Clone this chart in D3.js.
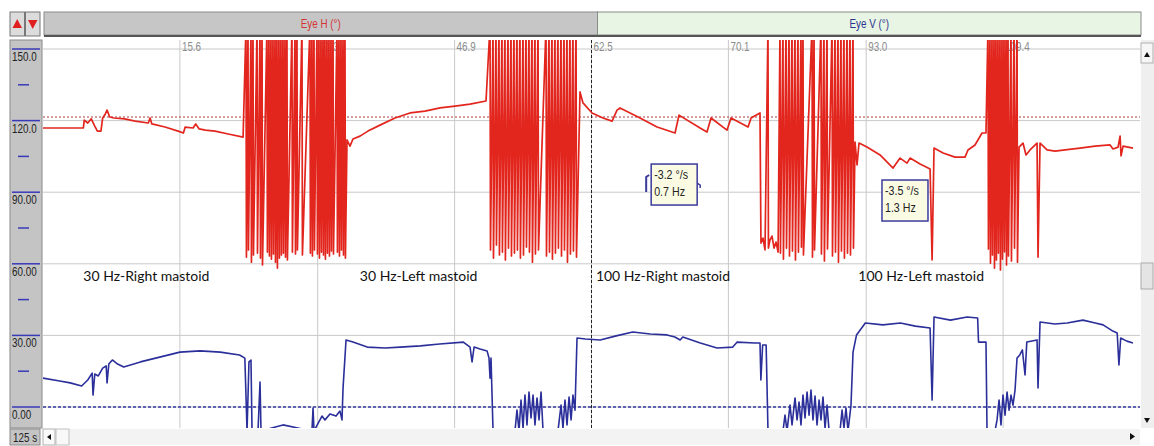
<!DOCTYPE html>
<html>
<head>
<meta charset="utf-8">
<script src="https://cdn.jsdelivr.net/npm/d3@7"></script>
<style>
body { margin: 0; background: #fff; }
svg { display: block; }
.ui { font-family: "Liberation Sans Narrow", "Liberation Sans", "DejaVu Sans", sans-serif; }
</style>
</head>
<body>
<div id="chart"></div>
<script>
// ---- data (time in s, position in degrees) ----
var timeTicks = [15.6, 31.3, 46.9, 62.5, 78.1, 93.8, 109.4];
var timeTickLabels = ["15.6", "31.3", "46.9", "62.5", "70.1", "93.0", "109.4"];

var degTicks = [150, 120, 90, 60, 30, 0];
var degTickLabels = ["150.0", "120.0", "90.00", "60.00", "30.00", "0.00"];
var degMinor = [135, 105, 75, 45, 15];

var channelNames = ["Eye H (°)", "Eye V (°)"];
var conditionNames = ["30 Hz-Right mastoid", "30 Hz-Left mastoid", "100 Hz-Right mastoid", "100 Hz-Left mastoid"];
var conditionStart = [4.6, 36.1, 63.0, 92.9];

var hReference = 121.5;
var vReference = 0;
var markerTime = 62.5;

// slow phase boxes: [t, deg] of the top-left corner
var nystagmusText = [["-3.2 °/s", "0.7 Hz"], ["-3.5 °/s", "1.3 Hz"]];
var nystagmusAt = [[69.3, 101.8], [95.6, 95.1]];

// horizontal eye, slow parts of the trace
var eyeHDrift = [
    [0, 116.9], [4.6, 116.9], [4.7, 120.2], [5.1, 119.0], [5.5, 120.7], [5.9, 117.7], [6.2, 115.6],
    [6.6, 115.6], [6.8, 121.1], [7.1, 122.8], [7.3, 124.4], [7.6, 121.5], [8.1, 121.1], [9.3, 120.7],
    [10.5, 119.8], [12.0, 119.0], [12.2, 121.1], [12.4, 118.6], [13.9, 117.3], [15.4, 115.6], [16.0, 114.8],
    [16.2, 117.3], [17.1, 116.9], [17.4, 118.6], [17.8, 116.5], [18.5, 116.0], [19.6, 115.6], [21.1, 114.4],
    [22.8, 113.1],
    [34.64, 111.9], [34.98, 109.3], [35.32, 112.3], [36.12, 113.5], [37.03, 115.6], [38.40, 118.1],
    [40.11, 121.1], [41.82, 123.2], [43.53, 124.0], [45.24, 125.3], [46.95, 126.1], [48.66, 126.9], [50.48, 128.2],
    [61.19, 132.0], [61.53, 127.4], [62.56, 123.2], [63.81, 121.1], [64.84, 119.8], [65.41, 124.4], [65.75, 125.3],
    [68.03, 121.1], [69.97, 117.3], [72.02, 114.8], [72.47, 122.3], [74.87, 116.9], [75.66, 115.2], [76.12, 121.1],
    [77.94, 116.0], [78.40, 121.1], [80.34, 117.3], [80.68, 121.1], [81.70, 123.2],
    [81.81, 68.7], [82.04, 70.8], [82.27, 65.8], [82.84, 70.0], [83.07, 71.6], [83.30, 66.6], [83.53, 69.1], [83.76, 64.9],
    [92.53, 111.0], [92.76, 101.4], [92.98, 110.6], [93.89, 108.9], [95.38, 105.6], [96.86, 100.1], [97.66, 104.3],
    [98.45, 102.2], [98.80, 104.3], [99.94, 101.8], [101.08, 99.7], [101.31, 61.6], [101.53, 108.5], [102.56, 106.4],
    [103.92, 104.7], [105.06, 104.7], [105.40, 107.7], [106.20, 109.8], [107.00, 114.8], [107.45, 114.8],
    [111.22, 108.9], [111.67, 110.6], [112.01, 105.6], [112.47, 107.7], [113.27, 110.6], [113.38, 62.8], [113.61, 110.6],
    [114.41, 107.7], [115.32, 107.2], [116.46, 107.7], [118.17, 108.5], [119.88, 109.3], [121.59, 109.8], [121.93, 108.1],
    [122.50, 108.9], [122.73, 113.5], [122.84, 105.2], [123.07, 109.3], [124.21, 108.5]
];

// horizontal eye, fast beats that run off the top: [t, lowest deg]
var eyeHBeats = [
    [23.13, 62.8], [23.36, 65.8], [23.70, 60.7], [23.93, 63.7], [24.39, 64.5], [24.73, 62.4], [24.96, 59.5],
    [25.52, 64.9], [25.75, 63.3], [25.98, 62.0], [26.21, 64.1], [26.44, 60.7], [26.66, 58.2], [26.89, 62.4],
    [27.12, 63.7], [27.35, 64.5], [27.58, 62.8], [27.80, 61.6], [28.37, 64.9], [28.72, 64.1], [28.94, 65.8],
    [29.51, 63.7], [30.42, 64.5], [30.65, 63.3], [30.88, 65.8], [31.22, 64.1], [31.45, 62.4], [31.68, 64.9],
    [31.91, 63.7], [32.13, 62.0], [32.36, 64.5], [32.59, 63.3], [32.82, 65.4], [33.05, 64.1], [33.50, 64.9],
    [33.73, 63.3], [33.96, 65.8], [34.19, 63.7], [34.41, 62.4],
    [50.94, 65.8], [51.28, 62.4], [51.62, 67.9], [51.96, 63.7], [52.30, 64.9], [52.64, 61.6], [52.99, 66.6],
    [53.33, 63.3], [53.67, 64.5], [54.01, 65.8], [54.35, 62.4], [54.70, 63.7], [55.04, 67.0], [55.38, 64.9],
    [55.72, 60.7], [56.06, 64.1], [56.41, 65.8], [57.32, 63.3], [57.66, 64.9], [58.00, 62.0], [58.34, 64.5],
    [58.68, 66.6], [59.03, 63.3], [59.37, 65.8], [59.71, 60.7], [60.05, 64.1], [60.39, 65.4], [60.74, 62.8],
    [82.61, 66.6], [83.98, 64.5], [84.32, 62.0], [84.67, 66.6], [85.01, 63.3], [85.35, 65.4], [85.69, 61.6],
    [86.03, 64.9], [86.37, 67.0], [86.60, 63.7], [87.63, 62.8], [87.86, 65.8], [88.65, 64.1], [88.99, 61.2],
    [89.34, 66.2], [89.91, 63.3], [90.25, 64.9], [90.59, 60.7], [90.93, 65.4], [91.27, 62.4], [91.62, 64.5],
    [91.96, 63.7], [92.30, 66.6],
    [107.68, 66.2], [107.91, 60.3], [108.14, 63.7], [108.37, 58.2], [108.59, 61.6], [108.82, 64.5], [109.05, 57.4],
    [109.28, 62.0], [109.51, 65.0], [109.74, 59.5], [109.96, 63.3], [110.30, 61.2], [110.65, 66.6], [110.99, 60.7]
];
var beatTop = 160;

// vertical eye
var eyeV = [
    [0, 12.1], [1.9, 10.9], [3.1, 10.1], [4.4, 8.8], [5.1, 11.3], [5.6, 14.2], [5.7, 5.0], [5.9, 13.8], [6.3, 13.0],
    [6.8, 16.3], [7.2, 17.2], [7.3, 10.1], [7.5, 18.0], [7.9, 19.7], [8.5, 18.0], [9.2, 16.8], [11.1, 18.9],
    [13.3, 20.9], [15.6, 23.0], [17.9, 23.5], [20.2, 23.0], [22.4, 21.8], [23.0, 20.5], [23.25, -10], [23.47, 18.9],
    [23.70, 19.7], [23.82, -10], [24.50, -10], [24.73, 10.5], [24.84, -10], [27.35, -7.5], [29.29, -9], [30.65, -10],
    [30.77, -0.4], [30.88, -10], [31.79, -3.8], [32.13, -5.4], [32.70, -2.9], [33.39, -3.8], [33.84, -1.7],
    [34.07, -5.4], [34.19, 8.0], [34.53, 28.1], [35.32, 27.2], [36.94, 25.1], [39.0, 24.7], [40.7, 25.1],
    [43.0, 25.6], [45.2, 26.4], [47.9, 27.2], [48.66, 25.1], [48.89, 18.9], [49.12, 25.1], [49.80, 24.3],
    [50.60, 23.5], [50.82, 20.5], [50.94, 12.1], [51.05, 20.5], [51.28, -10], [53.78, -10], [54.01, -1.3],
    [54.24, -10], [54.47, 2.9], [54.70, -8.8], [54.92, 5.0], [55.15, -7.5], [55.38, 6.3], [55.61, -4.6],
    [55.84, 5.0], [56.06, -7.5], [56.29, 3.8], [56.52, -5.4], [56.75, 6.3], [56.98, -10], [58.68, -10],
    [59.03, 0.8], [59.25, -8.8], [59.48, 2.9], [59.71, -7.5], [59.94, 4.2], [60.17, -5.4], [60.39, 5.0],
    [60.62, -1.3], [60.85, 28.9], [61.8, 28.5], [63.5, 28.1], [65.2, 29.7], [67.2, 31.4], [69.2, 30.6],
    [71.1, 30.2], [72.0, 29.3], [72.6, 28.1], [72.9, 29.3], [74.9, 26.8], [76.8, 24.7], [78.6, 25.1],
    [79.1, 27.2], [81.1, 26.8], [81.7, 26.8], [81.8, 11.3], [82.0, 26.0], [82.4, 26.0], [82.61, -10],
    [84.32, -10], [84.55, -3.4], [84.78, -10], [85.12, 0.8], [85.35, -7.5], [85.69, 3.8], [85.92, -5.4],
    [86.15, 2.1], [86.37, -7.5], [86.60, 5.0], [86.83, -4.6], [87.06, 6.3], [87.29, -3.4], [87.51, 7.1],
    [87.74, -5.4], [87.97, 4.6], [88.20, -7.5], [88.43, 2.9], [88.65, -5.4], [88.88, 4.2], [89.11, -8.8],
    [89.34, 0.8], [89.57, -10], [90.82, -10], [91.05, -1.3], [91.27, -8.8], [91.50, -0.4], [91.73, -10],
    [92.07, 0.8], [92.30, 23.0], [92.7, 30.2], [93.7, 35.2], [95.7, 34.4], [97.7, 35.2], [99.4, 33.9],
    [101.08, 33.1], [101.31, 2.9], [101.53, 37.7], [103.4, 36.4], [105.3, 37.7], [106.5, 37.3], [106.6, 27.2],
    [107.45, 27.2], [107.57, -10], [108.48, -10], [108.71, -5.4], [108.94, 2.9], [109.16, -7.5], [109.39, 5.0],
    [109.62, -3.4], [109.85, 6.3], [110.08, -1.3], [110.30, 5.0], [110.53, 0.8], [110.76, 7.1], [110.99, 20.5],
    [111.3, 21.8], [111.6, 23.9], [111.9, 13.4], [112.1, 27.2], [113.27, 28.1], [113.38, 8.0], [113.61, 35.6],
    [115.3, 34.8], [116.7, 35.2], [118.5, 36.4], [119.9, 35.2], [120.8, 34.4], [121.9, 31.8], [122.4, 31.0],
    [122.6, 17.6], [122.8, 28.9], [123.5, 27.6], [124.2, 26.8]
];

// ---- layout ----
var svgWidth = 1154;
var svgHeight = 446;
var plot = { left: 43, right: 1140, top: 40, bottom: 428 };
var narrow = 0.82; // the recorder uses a condensed face

var svg = d3.select("#chart")
    .append("svg")
    .attr("width", svgWidth)
    .attr("height", svgHeight);

svg.append("rect").attr("width", svgWidth).attr("height", svgHeight).attr("fill", "#fff");

var xScale = d3.scaleLinear().domain([0, 125]).range([plot.left, plot.right]);
var yScale = d3.scaleLinear().domain([0, 150]).range([407, 49]);

// condensed text helper
function narrowText(sel, x, y) {
    return sel.attr("transform", `translate(${x},${y}) scale(${narrow},1)`);
}

// ---- channel header ----
var header = svg.append("g").attr("class", "ui");
var splitX = xScale(markerTime) + 6;

header.append("rect").attr("x", 10).attr("y", 12).attr("width", 14.5).attr("height", 24)
    .attr("fill", "#dcdcdc").attr("stroke", "#777");
header.append("rect").attr("x", 25.5).attr("y", 12).attr("width", 14.5).attr("height", 24)
    .attr("fill", "#dcdcdc").attr("stroke", "#777");
header.append("path").attr("d", "M12.5,28 L22,28 L17.2,19 Z").attr("fill", "#e02020");
header.append("path").attr("d", "M28,20 L37.5,20 L32.7,29 Z").attr("fill", "#e02020");

header.append("rect").attr("x", 44).attr("y", 12).attr("width", splitX - 44).attr("height", 23)
    .attr("fill", "#c6c6c6").attr("stroke", "#8a8a8a");
header.append("rect").attr("x", splitX).attr("y", 12).attr("width", 1141 - splitX).attr("height", 23)
    .attr("fill", "#e8f4e4").attr("stroke", "#8a8a8a");
header.append("line").attr("x1", 44).attr("x2", 1141).attr("y1", 36).attr("y2", 36)
    .attr("stroke", "#555").attr("stroke-width", 2);

narrowText(header.append("text"), (44 + splitX) / 2, 28)
    .attr("text-anchor", "middle").style("font-size", "12px").attr("fill", "#d43434")
    .text(channelNames[0]);
narrowText(header.append("text"), (splitX + 1141) / 2, 28)
    .attr("text-anchor", "middle").style("font-size", "12px").attr("fill", "#2a3590")
    .text(channelNames[1]);

// ---- plot area ----
svg.append("clipPath").attr("id", "plotClip")
    .append("rect")
    .attr("x", plot.left).attr("y", plot.top)
    .attr("width", plot.right - plot.left).attr("height", plot.bottom - plot.top);

var chartGroup = svg.append("g").attr("clip-path", "url(#plotClip)");

// grid
chartGroup.selectAll(".vgrid")
    .data(timeTicks)
    .enter()
    .append("line")
    .attr("x1", d => xScale(d)).attr("x2", d => xScale(d))
    .attr("y1", plot.top).attr("y2", plot.bottom)
    .attr("stroke", "#c9c9c9").attr("stroke-width", 1);

chartGroup.selectAll(".hgrid")
    .data(degTicks)
    .enter()
    .append("line")
    .attr("x1", plot.left).attr("x2", plot.right)
    .attr("y1", d => yScale(d)).attr("y2", d => yScale(d))
    .attr("stroke", "#c9c9c9").attr("stroke-width", 1);

// time labels along the top
chartGroup.selectAll(".tlabel")
    .data(timeTicks)
    .enter()
    .append("text")
    .attr("class", "ui")
    .attr("transform", d => `translate(${xScale(d) + 2},51) scale(${narrow},1)`)
    .style("font-size", "12px")
    .attr("fill", "#8c8c8c")
    .text((d, i) => timeTickLabels[i]);

// reference lines
chartGroup.append("line")
    .attr("x1", plot.left).attr("x2", plot.right)
    .attr("y1", yScale(hReference)).attr("y2", yScale(hReference))
    .attr("stroke", "#a8413f").attr("stroke-width", 1.2).attr("stroke-dasharray", "2,2");
chartGroup.append("line")
    .attr("x1", plot.left).attr("x2", plot.right)
    .attr("y1", yScale(vReference)).attr("y2", yScale(vReference))
    .attr("stroke", "#3438a0").attr("stroke-width", 1.4).attr("stroke-dasharray", "3,2");
chartGroup.append("line")
    .attr("x1", xScale(markerTime)).attr("x2", xScale(markerTime))
    .attr("y1", plot.top).attr("y2", plot.bottom)
    .attr("stroke", "#222").attr("stroke-width", 1).attr("stroke-dasharray", "3,2");

// horizontal eye trace: slow parts plus the beats that go off the top
var beatPoints = [];
eyeHBeats.forEach(function(b) {
    beatPoints.push([b[0], beatTop]);
    beatPoints.push([b[0] + 0.05, b[1]]);
});
var eyeHPoints = d3.sort(eyeHDrift.concat(beatPoints), d => d[0]);

var traceLine = d3.line()
    .x(d => xScale(d[0]))
    .y(d => yScale(d[1]));

chartGroup.append("path")
    .datum(eyeHPoints)
    .attr("d", traceLine)
    .attr("fill", "none")
    .attr("stroke", "#e2261e")
    .attr("stroke-width", 1.7)
    .attr("stroke-linejoin", "round");

chartGroup.append("path")
    .datum(eyeV)
    .attr("d", traceLine)
    .attr("fill", "none")
    .attr("stroke", "#2b2f9a")
    .attr("stroke-width", 1.6)
    .attr("stroke-linejoin", "round");

// condition labels
chartGroup.selectAll(".cond")
    .data(conditionNames)
    .enter()
    .append("text")
    .attr("x", (d, i) => xScale(conditionStart[i]))
    .attr("y", yScale(53))
    .style("font-family", "Lato, 'Open Sans', sans-serif")
    .style("font-size", "14px")
    .attr("fill", "#111")
    .text(d => d);

// slow phase boxes
nystagmusText.forEach(function(lines, i) {
    var bx = xScale(nystagmusAt[i][0]);
    var by = yScale(nystagmusAt[i][1]);
    var box = chartGroup.append("g").attr("class", "ui");
    box.append("rect")
        .attr("x", bx).attr("y", by).attr("width", 46).attr("height", 41)
        .attr("fill", "#fbfbe4").attr("stroke", "#3b3b9c").attr("stroke-width", 1.5);
    box.selectAll("text")
        .data(lines)
        .enter()
        .append("text")
        .attr("transform", (d, j) => `translate(${bx + 3},${by + 15 + j * 17}) scale(${narrow},1)`)
        .style("font-size", "13px")
        .attr("fill", "#222")
        .text(d => d);
    if (i === 0) {
        box.append("path")
            .attr("d", `M${bx - 5},${by + 28} L${bx - 5},${by + 13} L${bx - 2},${by + 11}`)
            .attr("fill", "none").attr("stroke", "#3b3b9c").attr("stroke-width", 2);
        box.append("path")
            .attr("d", `M${bx + 46},${by + 19} L${bx + 49},${by + 21} L${bx + 49},${by + 24}`)
            .attr("fill", "none").attr("stroke", "#3b3b9c").attr("stroke-width", 1.5);
    }
});

// ---- left value panel ----
var leftPanel = svg.append("g").attr("class", "ui");
leftPanel.append("rect")
    .attr("x", 10).attr("y", plot.top).attr("width", 32).attr("height", plot.bottom - plot.top)
    .attr("fill", "#c4c4c4").attr("stroke", "#8a8a8a");

leftPanel.selectAll(".major")
    .data(degTicks)
    .enter()
    .append("line")
    .attr("x1", 12).attr("x2", 40)
    .attr("y1", d => yScale(d)).attr("y2", d => yScale(d))
    .attr("stroke", "#3a3ab8").attr("stroke-width", 1.5);

leftPanel.selectAll(".minor")
    .data(degMinor)
    .enter()
    .append("line")
    .attr("x1", 18).attr("x2", 29)
    .attr("y1", d => yScale(d)).attr("y2", d => yScale(d))
    .attr("stroke", "#3a3ab8").attr("stroke-width", 1.5);

leftPanel.selectAll(".vlabel")
    .data(degTicks)
    .enter()
    .append("text")
    .attr("transform", d => `translate(12,${yScale(d) + 12}) scale(${narrow},1)`)
    .style("font-size", "12px")
    .attr("fill", "#222")
    .text((d, i) => degTickLabels[i]);

// ---- scroll bars ----
var bars = svg.append("g").attr("class", "ui");
bars.append("rect").attr("x", 1141).attr("y", plot.top).attr("width", 13).attr("height", plot.bottom - plot.top)
    .attr("fill", "#efefef");
bars.append("rect").attr("x", 1141).attr("y", 43).attr("width", 12).attr("height", 20)
    .attr("fill", "#f6f6f6").attr("stroke", "#b0b0b0");
bars.append("path").attr("d", "M1144,57 L1150,57 L1147,52 Z").attr("fill", "#111");
bars.append("rect").attr("x", 1141).attr("y", 263).attr("width", 12).attr("height", 26)
    .attr("fill", "#e4e4e4").attr("stroke", "#aaa");
bars.append("path").attr("d", "M1144,418 L1150,418 L1147,423 Z").attr("fill", "#111");

bars.append("rect").attr("x", 10).attr("y", 429).attr("width", 30).attr("height", 16)
    .attr("fill", "#c4c4c4").attr("stroke", "#8a8a8a");
narrowText(bars.append("text"), 13, 442).style("font-size", "12px").attr("fill", "#222").text("125 s");
bars.append("rect").attr("x", 43).attr("y", 429).attr("width", 1097).attr("height", 16)
    .attr("fill", "#f3f3f3");
bars.append("rect").attr("x", 43).attr("y", 429).attr("width", 12).attr("height", 16)
    .attr("fill", "#fafafa").attr("stroke", "#b0b0b0");
bars.append("path").attr("d", "M51,434 L51,440 L47,437 Z").attr("fill", "#111");
bars.append("rect").attr("x", 56).attr("y", 429).attr("width", 13).attr("height", 16)
    .attr("fill", "#f8f8f8").attr("stroke", "#c0c0c0");
bars.append("path").attr("d", "M1130,433 L1130,440 L1135,436.5 Z").attr("fill", "#111");
</script>
</body>
</html>
